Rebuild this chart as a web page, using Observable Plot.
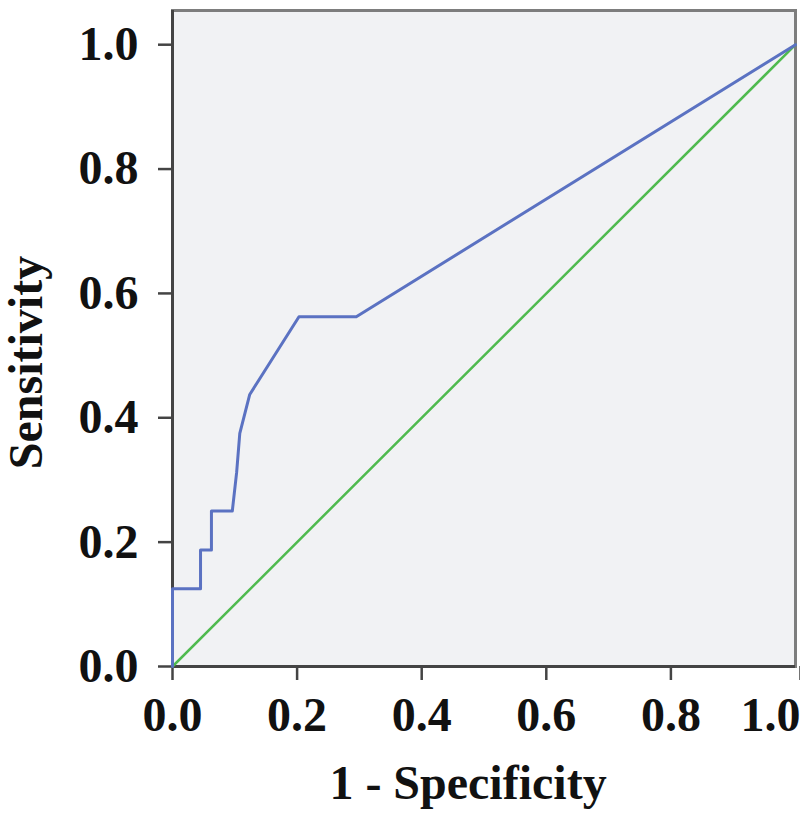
<!DOCTYPE html>
<html>
<head>
<meta charset="utf-8">
<script src="https://cdn.jsdelivr.net/npm/d3@7"></script>
<script src="https://cdn.jsdelivr.net/npm/@observablehq/plot@0.6"></script>
<style>
  body { margin: 0; background: #fff; }
  #chart { width: 800px; height: 820px; }
</style>
</head>
<body>
<div id="chart"></div>
<script>
// ROC curve points (1 - specificity, sensitivity)
const fpr = [0, 0, 0.045, 0.045, 0.0625, 0.0625, 0.096, 0.103, 0.108, 0.124, 0.203, 0.295, 1.0];
const tpr = [0, 0.125, 0.125, 0.1875, 0.1875, 0.25, 0.25, 0.3125, 0.375, 0.4375, 0.5625, 0.5625, 1.0];
// reference diagonal
const refX = [0, 1];
const refY = [0, 1];
const tickValues = [0, 0.2, 0.4, 0.6, 0.8, 1.0];
const xTicksMain = [0, 0.2, 0.4, 0.6, 0.8];
const xTickLast = [1.0];
const xLabel = "1 - Specificity";
const yLabel = "Sensitivity";

const roc = fpr.map((x, i) => ({x, y: tpr[i]}));
const diag = refX.map((x, i) => ({x, y: refY[i]}));

const font = "'Liberation Serif', 'Times New Roman', serif";
const fs = 48;

const chart = Plot.plot({
  width: 800,
  height: 820,
  marginLeft: 172,
  marginRight: 5,
  marginTop: 10,
  marginBottom: 154,
  style: {fontFamily: font, fontWeight: "bold", fontSize: fs + "px", color: "#111", background: "#fff"},
  x: {domain: [0, 1]},
  y: {domain: [0, 1.055]},
  marks: [
    Plot.frame({fill: "#f1f2f4", stroke: "#7d7d7d", strokeWidth: 3}),
    Plot.axisX({ticks: xTicksMain, tickFormat: d3.format(".1f"), tickSize: 14, tickPadding: 16, stroke: "#444", strokeWidth: 2.5, fontSize: fs, label: null}),
    Plot.axisX({ticks: xTickLast, tickFormat: d3.format(".1f"), tickSize: 14, tickPadding: 16, stroke: "#444", strokeWidth: 2.5, fontSize: fs, textAnchor: "end", dx: 5, label: null}),
    Plot.axisY({ticks: tickValues, tickFormat: d3.format(".1f"), tickSize: 14, tickPadding: 20, stroke: "#444", strokeWidth: 2.5, fontSize: fs, label: null}),
    Plot.ruleX([0], {stroke: "#444", strokeWidth: 3}),
    Plot.ruleY([0], {stroke: "#444", strokeWidth: 3}),
    Plot.line(diag, {x: "x", y: "y", stroke: "#4fba4f", strokeWidth: 2.5}),
    Plot.line(roc, {x: "x", y: "y", stroke: "#5b72c2", strokeWidth: 3}),
    Plot.text([xLabel], {frameAnchor: "bottom", lineAnchor: "top", dx: -16, dy: 98, fontSize: fs, fontWeight: "bold", fill: "#111"}),
    Plot.text([yLabel], {frameAnchor: "left", rotate: -90, textAnchor: "middle", dx: -146, dy: 24, fontSize: fs, fontWeight: "bold", fill: "#111"})
  ]
});
document.getElementById("chart").appendChild(chart);
</script>
</body>
</html>
